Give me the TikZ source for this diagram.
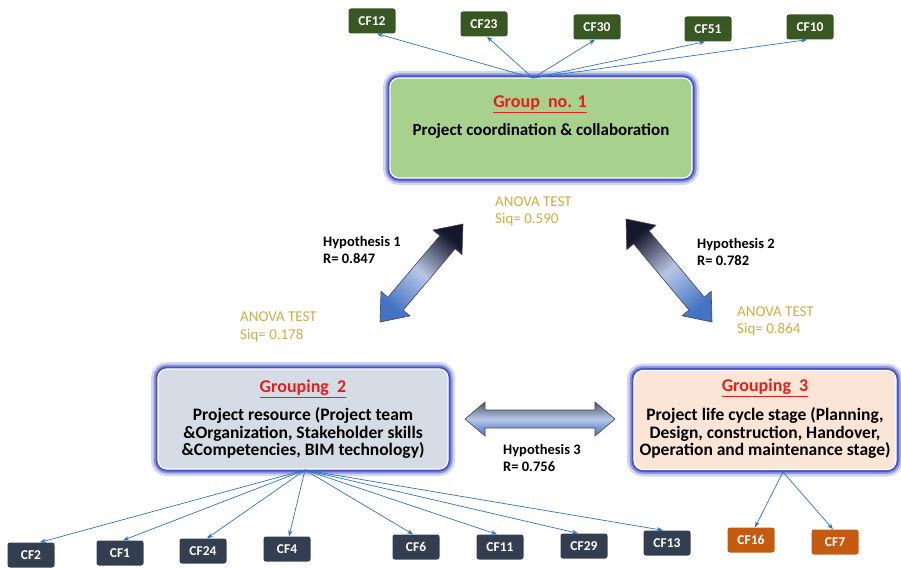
\documentclass[tikz,border=0pt]{standalone}
\usepackage{fontspec}
\setmainfont{Carlito}
\usetikzlibrary{calc,arrows.meta}
\definecolor{gOne}{HTML}{A9D18E}
\definecolor{gTwo}{HTML}{D6DCE5}
\definecolor{gThree}{HTML}{FBE5D6}
\definecolor{cfGreen}{HTML}{385723}
\definecolor{cfNavy}{HTML}{333F50}
\definecolor{cfOrange}{HTML}{C55A11}
\definecolor{lineBlue}{HTML}{2E75B6}
\definecolor{anovaGold}{HTML}{CDAE48}
\definecolor{glowA}{HTML}{4654C4}
\definecolor{glowB}{HTML}{8C96DC}
\definecolor{glowC}{HTML}{D2D6F0}
\definecolor{titleRed}{HTML}{E3201B}
\definecolor{arrDark}{HTML}{15172A}
\definecolor{arrMid}{HTML}{B8C6E6}
\definecolor{arrBlue}{HTML}{4472C4}
\definecolor{arrGray}{HTML}{4D5566}
\newcommand\dblarrow[6]{%
  \coordinate (tmpHA) at ($(#1)!#3!(#2)$);
  \coordinate (tmpHB) at ($(#2)!#3!(#1)$);
  \draw[#6] (#1)
    -- ($(tmpHA)!#4!90:(#2)$)
    -- ($(tmpHA)!#5!90:(#2)$)
    -- ($(tmpHB)!#5!-90:(#1)$)
    -- ($(tmpHB)!#4!-90:(#1)$)
    -- (#2)
    -- ($(tmpHB)!#4!90:(#1)$)
    -- ($(tmpHB)!#5!90:(#1)$)
    -- ($(tmpHA)!#5!-90:(#2)$)
    -- ($(tmpHA)!#4!-90:(#2)$)
    -- cycle;}
\tikzset{
  groupbox/.style={rounded corners=9pt, draw=white, line width=1.2pt, inner sep=0pt,
    preaction={draw=glowC, line width=14pt},
    preaction={draw=glowB, line width=9pt},
    preaction={draw=glowA, line width=5pt}},
  cfbox/.style={rounded corners=2.5pt, minimum width=47pt, minimum height=25pt, inner sep=0pt,
    text=white, font=\fontsize{13.5}{15}\selectfont\bfseries},
  fanline/.style={draw=lineBlue, line width=0.7pt, -{Stealth[length=6pt,width=4.5pt]}},
  gtitle/.style={text=titleRed, font=\fontsize{18}{20}\selectfont\bfseries},
  gbody/.style={align=center, font=\fontsize{17.5}{17.7}\selectfont\bfseries},
  hyp/.style={anchor=west, align=left, inner sep=0pt, font=\fontsize{14.5}{17}\selectfont\bfseries},
  anova/.style={anchor=west, align=left, inner sep=0pt, text=anovaGold, font=\fontsize{15}{17.5}\selectfont},
  bigarrow/.style={draw=arrDark!80, line width=0.6pt}
}
\begin{document}
\begin{tikzpicture}[x=1pt,y=-1pt]
\useasboundingbox (0,0) rectangle (901,567);
\fill[white] (0,0) rectangle (901,567);
% group boxes
\node[groupbox, fill=gOne, minimum width=302pt, minimum height=100pt] (g1) at (541,128) {};
\node[groupbox, fill=gTwo, minimum width=290pt, minimum height=100pt] (g2) at (303,419) {};
\node[groupbox, fill=gThree, minimum width=262pt, minimum height=99pt] (g3) at (765,420) {};
% group texts
\node[gtitle] (t1) at (540,104) {\underline{Group\ \ no. 1}};
\node[gbody, font=\fontsize{17}{17.7}\selectfont\bfseries] (b1) at (541,131) {Project coordination \& collaboration};
\node[gtitle] (t2) at (303,389) {\underline{Grouping\ \ 2}};
\node[gbody] (b2) at (303,433) {Project resource (Project team\\\&Organization, Stakeholder skills\\\&Competencies, BIM technology)};
\node[gtitle] (t3) at (765,388) {\underline{Grouping\ \ 3}};
\node[gbody] (b3) at (765,433) {Project life cycle stage (Planning,\\Design, construction, Handover,\\Operation and maintenance stage)};
% top CF nodes
\node[cfbox, fill=cfGreen] (cf12) at (372,21) {CF12};
\node[cfbox, fill=cfGreen] (cf23) at (484,24) {CF23};
\node[cfbox, fill=cfGreen] (cf30) at (597,27) {CF30};
\node[cfbox, fill=cfGreen] (cf51) at (708,29) {CF51};
\node[cfbox, fill=cfGreen] (cf10) at (810,27) {CF10};
% bottom CF nodes
\node[cfbox, fill=cfNavy] (cf2) at (31,555) {CF2};
\node[cfbox, fill=cfNavy] (cf1) at (120,553) {CF1};
\node[cfbox, fill=cfNavy] (cf24) at (203,551) {CF24};
\node[cfbox, fill=cfNavy] (cf4) at (287,549) {CF4};
\node[cfbox, fill=cfNavy] (cf6) at (416,547) {CF6};
\node[cfbox, fill=cfNavy] (cf11) at (500,547) {CF11};
\node[cfbox, fill=cfNavy] (cf29) at (584,546) {CF29};
\node[cfbox, fill=cfNavy] (cf13) at (667,543) {CF13};
\node[cfbox, fill=cfOrange] (cf16) at (751,540) {CF16};
\node[cfbox, fill=cfOrange] (cf7) at (835,542) {CF7};
% fans
\coordinate (o1) at (533,78);
\coordinate (o2) at (305,470);
\coordinate (o3) at (783,472);
\foreach \n/\dx in {cf12/5,cf23/3,cf30/-2,cf51/-3,cf10/-3}
  \draw[fanline] (o1) -- ([xshift=\dx pt]\n.south);
\foreach \n/\dx in {cf2/9,cf1/3,cf24/4,cf4/2,cf6/-3,cf11/-3,cf29/-6,cf13/-4}
  \draw[fanline] (o2) -- ([xshift=\dx pt]\n.north);
\foreach \n/\dx in {cf16/4,cf7/-2}
  \draw[fanline] (o3) -- ([xshift=\dx pt]\n.north);
% big arrows
\coordinate (a1t) at (463,224);
\coordinate (a1b) at (380,322);
\coordinate (a2t) at (626,219);
\coordinate (a2b) at (712,322);
\coordinate (a3l) at (465,419);
\coordinate (a3r) at (615,419);
\dblarrow{a1b}{a1t}{24pt}{19pt}{10pt}{bigarrow, top color=arrDark, bottom color=arrBlue, middle color=arrMid, shading angle=-40}
\dblarrow{a2b}{a2t}{24pt}{19pt}{10pt}{bigarrow, top color=arrDark, bottom color=arrBlue, middle color=arrMid, shading angle=40}
\dblarrow{a3l}{a3r}{20pt}{17pt}{9pt}{bigarrow, top color=arrGray, bottom color=arrBlue, middle color=arrMid}
% labels
\node[hyp] (h1) at (323,249.5) {Hypothesis 1\\R= 0.847};
\node[hyp] (h2) at (697,252) {Hypothesis 2\\R= 0.782};
\node[hyp] (h3) at (503,458) {Hypothesis 3\\R= 0.756};
\node[anova] (an1) at (495,211.5) {ANOVA TEST\\Siq= 0.590};
\node[anova] (an2) at (240,327) {ANOVA TEST\\Siq= 0.178};
\node[anova] (an3) at (737,321.5) {ANOVA TEST\\Siq= 0.864};
\end{tikzpicture}
\end{document}
